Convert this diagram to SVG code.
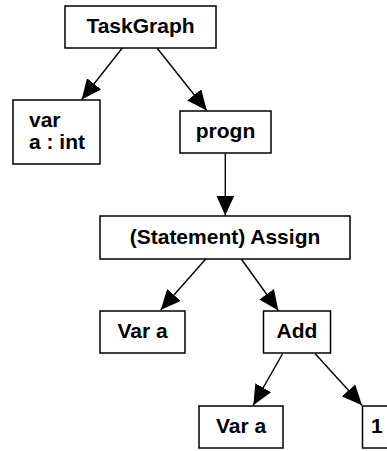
<svg xmlns="http://www.w3.org/2000/svg" width="387" height="451" viewBox="0 0 387 451">
<style>
.box{fill:#fff;stroke:#000;stroke-width:1.5}
.t{font-family:"Liberation Sans",Arial,sans-serif;font-weight:bold;font-size:21px;fill:#000}
.c{text-anchor:middle}
.e{stroke:#000;stroke-width:1.4;fill:none;marker-end:url(#ah)}
</style>
<defs>
<marker id="ah" markerUnits="userSpaceOnUse" markerWidth="20" markerHeight="18" refX="20" refY="9" orient="auto" viewBox="0 0 20 18">
<path d="M0,0 L20,9 L0,18 z" fill="#000"/>
</marker>
</defs>
<g id="edges">
<line class="e" x1="122.3" y1="48" x2="81.7" y2="99.5"/>
<line class="e" x1="157" y1="48" x2="206.7" y2="110.5"/>
<line class="e" x1="225.3" y1="153.5" x2="225.3" y2="215.5"/>
<line class="e" x1="205.7" y1="259" x2="160.7" y2="310"/>
<line class="e" x1="241.3" y1="259" x2="278.3" y2="310.5"/>
<line class="e" x1="282.7" y1="353.5" x2="253.3" y2="405.2"/>
<line class="e" x1="315" y1="353.5" x2="362" y2="405.2"/>
</g>
<g id="taskgraph">
<rect class="box" x="65" y="6" width="151" height="42"/>
<text class="t c" x="140.5" y="33">TaskGraph</text>
</g>
<g id="var">
<rect class="box" x="13" y="100" width="87" height="64"/>
<text class="t" x="29" y="127">var</text>
<text class="t" x="29" y="149">a : int</text>
</g>
<g id="progn">
<rect class="box" x="180" y="111" width="91" height="42"/>
<text class="t c" x="225.5" y="138">progn</text>
</g>
<g id="assign">
<rect class="box" x="100" y="216" width="250" height="43"/>
<text class="t c" x="225" y="244">(Statement) Assign</text>
</g>
<g id="vara1">
<rect class="box" x="100" y="311" width="85" height="42"/>
<text class="t c" x="142.5" y="338">Var a</text>
</g>
<g id="add">
<rect class="box" x="263.5" y="311" width="67" height="42"/>
<text class="t c" x="297" y="338">Add</text>
</g>
<g id="vara2">
<rect class="box" x="199" y="406" width="84" height="42"/>
<text class="t c" x="241" y="433">Var a</text>
</g>
<g id="one">
<rect class="box" x="362.5" y="406" width="40" height="42"/>
<text class="t" x="371" y="433">1</text>
</g>
</svg>
